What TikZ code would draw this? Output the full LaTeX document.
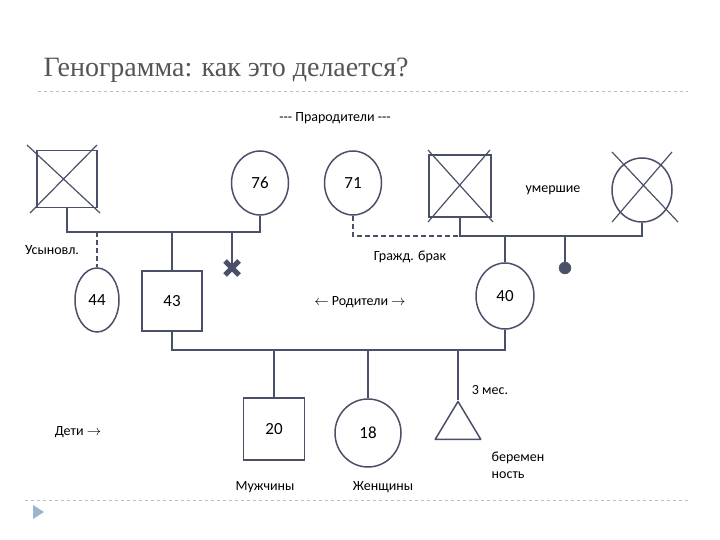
\documentclass[tikz,border=0pt]{standalone}
\usepackage{fontspec}
\setmainfont{Carlito}
\newfontfamily\titlefont{Liberation Serif}
\usetikzlibrary{shapes.geometric}
\definecolor{lineC}{HTML}{4A5068}
\definecolor{titleC}{HTML}{555555}
\definecolor{ruleC}{HTML}{B8BCC8}
\definecolor{bulletC}{HTML}{9DB4D0}
\tikzset{
  male/.style={draw=lineC, line width=1.5pt, minimum width=60pt, minimum height=60pt, font=\fontsize{17}{19}\selectfont},
  female/.style={draw=lineC, line width=1.5pt, ellipse, font=\fontsize{17}{19}\selectfont},
  lbl/.style={font=\fontsize{14}{17}\selectfont, align=left},
  rel/.style={draw=lineC, line width=1.5pt},
  weak/.style={dash pattern=on 5pt off 3pt},
  cross/.style={draw=lineC, line width=1.2pt}
}
\begin{document}
\begin{tikzpicture}[x=1pt,y=-1pt]
\useasboundingbox (0,0) rectangle (720,540);

% title
\node[anchor=west, text=titleC, font=\fontsize{28}{30}\selectfont\titlefont] (title) at (40,70) {Генограмма: как это делается?};
\draw[ruleC, dashed] (38,91) -- (688,91);
\draw[ruleC, dashed] (25,500) -- (690,500);
\fill[bulletC] (33,505) -- (44,512) -- (33,519) -- cycle;

\node[lbl] (top) at (335,118) {{-}{-}{-} Прародители {-}{-}{-}};

% grandparents
\node[male, minimum height=57pt] (gf1) at (67,179) {};
\draw[cross] (27,145) -- (100,213) (97,145) -- (30,213);
\node[female, minimum width=57pt, minimum height=64pt] (gm1) at (260,183) {76};
\node[female, minimum width=57pt, minimum height=64pt] (gm2) at (353,183) {71};
\node[male, minimum width=62pt, minimum height=62pt] (gf2) at (460,186) {};
\draw[cross] (428,150) -- (493,222) (490,150) -- (428,222);
\node[female, minimum width=60pt, minimum height=64pt] (gm3) at (642,190) {};
\draw[cross] (612,152) -- (678,222) (672,152) -- (612,222);
\node[lbl] (dead) at (553,190) {умершие};

% parents
\node[female, minimum width=44pt, minimum height=64pt] (adopt) at (97,300) {44};
\node[male] (son) at (172,301) {43};
\node[female, minimum width=58pt, minimum height=66pt] (mom) at (505,296) {40};
\coordinate (abort) at (232,268);
\draw[lineC, line width=5pt] ([shift={(-7,-7)}]abort) -- ([shift={(7,7)}]abort) ([shift={(7,-7)}]abort) -- ([shift={(-7,7)}]abort);
\node[circle, fill=lineC, draw=lineC, inner sep=0pt, minimum size=12pt] (dot) at (565,268) {};
\node[lbl] (adlbl) at (52,250) {Усыновл.};
\node[lbl] (civil) at (410,257) {Гражд. брак};
\node[lbl] (par) at (360,302) {$\leftarrow$ Родители $\rightarrow$};

\coordinate (j1) at (67,232);
\coordinate (j2) at (460,236);
\draw[rel] (gf1.south) -- (j1) -| (gm1.south);
\draw[rel, weak] (97,232) -- (adopt.north);
\draw[rel] (172,232) -- (son.north);
\draw[rel] (232,232) -- (abort);
\draw[rel, weak] (gm2.south) |- (j2);
\draw[rel] (gf2.south) -- (j2) -| (gm3.south);
\draw[rel] (505,236) -- (mom.north);
\draw[rel] (565,236) -- (dot.center);

% children
\node[male, minimum width=61pt, minimum height=62pt] (boy) at (274,429) {20};
\node[female, minimum width=66pt, minimum height=68pt] (girl) at (368,433) {18};
\node[draw=lineC, line width=1.5pt, line join=round, isosceles triangle, shape border rotate=90, isosceles triangle apex angle=62, minimum height=38pt, inner sep=0pt, anchor=apex] (preg) at (458,400) {};
\coordinate (j3) at (172,350);
\draw[rel] (son.south) -- (j3) -| (mom.south);
\draw[rel] (274,350) -- (boy.north);
\draw[rel] (368,350) -- (girl.north);
\draw[rel] (458,350) -- (preg.apex);

\node[lbl] (mes) at (490,390) {3 мес.};
\node[lbl, align=left] (pregl) at (518,465) {беремен\\ность};
\node[lbl] (kids) at (78,432) {Дети $\rightarrow$};
\node[lbl] (men) at (265,487) {Мужчины};
\node[lbl] (women) at (383,487) {Женщины};
\end{tikzpicture}
\end{document}
